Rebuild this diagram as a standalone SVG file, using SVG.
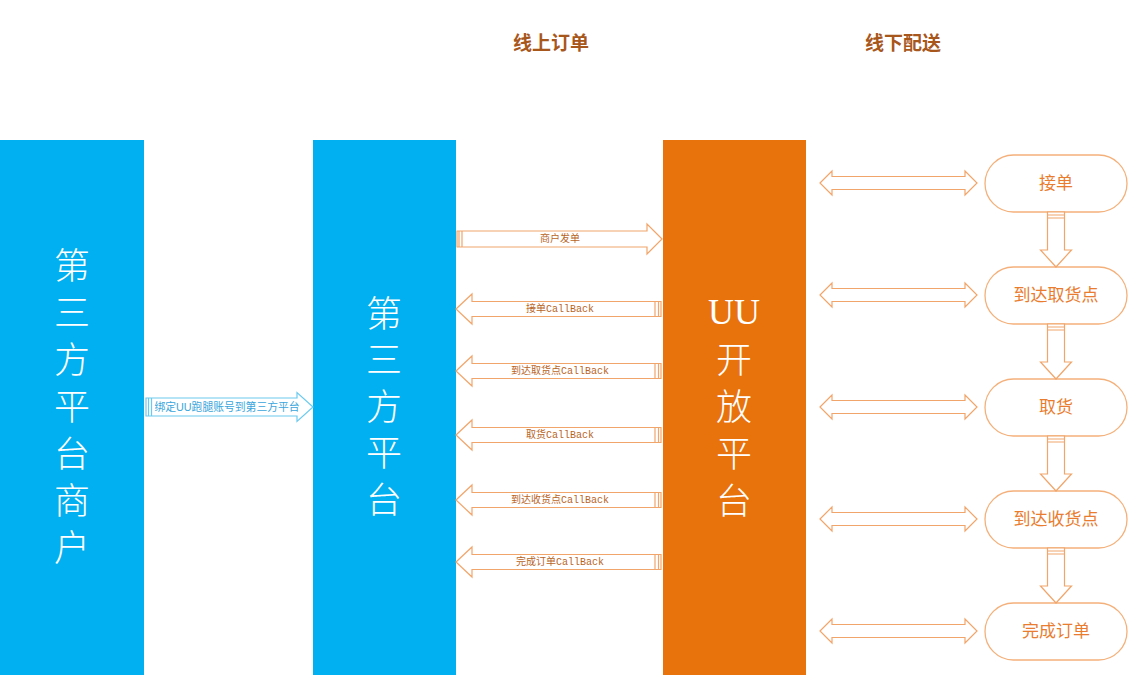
<svg xmlns="http://www.w3.org/2000/svg" xmlns:xlink="http://www.w3.org/1999/xlink" width="1129" height="675" viewBox="0 0 1129 675">
<style>
.bar-blue{fill:#00b0f0}
.bar-orange{fill:#e8720c}
.big{font-family:"Noto Sans CJK SC","Noto Sans",sans-serif;font-size:36px;font-weight:300;fill:#ffffff}
.vert{writing-mode:vertical-rl;letter-spacing:11px}
.uu{font-family:"Liberation Serif","Noto Sans CJK SC",serif;text-anchor:middle;dominant-baseline:central}
.title{font-family:"Noto Sans CJK SC",sans-serif;font-size:19px;font-weight:bold;fill:#a8571c;text-anchor:middle;dominant-baseline:central}
.arr{fill:#ffffff;stroke:#f2a56a;stroke-width:1.2}
.arrb{fill:#ffffff;stroke:#6ccaf0;stroke-width:1.2}
.lbl{font-family:"Liberation Mono","Noto Sans CJK SC",monospace;font-size:10px;fill:#b8651f;text-anchor:middle;dominant-baseline:central}
.lblb{font-family:"Liberation Sans","Noto Sans CJK SC",sans-serif;font-size:10.8px;fill:#3aa6dc;text-anchor:middle;dominant-baseline:central}
.pill{fill:#ffffff;stroke:#f4b07a;stroke-width:1.3}
.ptxt{font-family:"Noto Sans CJK SC",sans-serif;font-size:17px;fill:#e97c2e;text-anchor:middle;dominant-baseline:central}
</style>
<defs>
<g id="leftArrow">
<path d="M0,0 L16,-15 L16,-7.5 L205,-7.5 L205,7.5 L16,7.5 L16,15 Z"/>
<path d="M199,-7.5 V7.5 M202.5,-7.5 V7.5" fill="none"/>
</g>
<g id="rightArrow">
<path d="M0,0 L-15,-15 L-15,-8 L-205,-8 L-205,8 L-15,8 L-15,15 Z"/>
<path d="M-200,-8 V8 M-203,-8 V8" fill="none"/>
</g>
<path id="dblArrow" d="M0,0 L12,-12 L12,-6.5 L145,-6.5 L145,-12 L157,0 L145,12 L145,6.5 L12,6.5 L12,12 Z"/>
<g id="downArrow">
<path d="M-8.5,0 L8.5,0 L8.5,38 L15.5,38 L0,55 L-15.5,38 L-8.5,38 Z"/>
<path d="M-8.5,3 H8.5 M-8.5,6 H8.5" fill="none"/>
</g>
</defs>

<text class="title" x="551" y="41">线上订单</text>
<text class="title" x="903" y="41">线下配送</text>

<g id="merchant">
<rect class="bar-blue" x="0" y="140" width="144" height="535"/>
<text class="big vert" x="72" y="247">第三方平台商户</text>
</g>

<g id="thirdparty">
<rect class="bar-blue" x="313" y="140" width="143" height="535"/>
<text class="big vert" x="384" y="295" style="letter-spacing:10.5px">第三方平台</text>
</g>

<g id="uuplatform">
<rect class="bar-orange" x="663" y="140" width="143" height="535"/>
<text class="big uu" x="734" y="312">UU</text>
<text class="big vert" x="734" y="341">开放平台</text>
</g>

<g id="pill-jiedan"><rect class="pill" x="985" y="155" width="142" height="57" rx="28.5"/><text class="ptxt" x="1056" y="181.5">接单</text></g>
<g id="pill-quhuodian"><rect class="pill" x="985" y="267" width="142" height="57" rx="28.5"/><text class="ptxt" x="1056" y="293.5">到达取货点</text></g>
<g id="pill-quhuo"><rect class="pill" x="985" y="379" width="142" height="57" rx="28.5"/><text class="ptxt" x="1056" y="405.5">取货</text></g>
<g id="pill-shouhuodian"><rect class="pill" x="985" y="491" width="142" height="57" rx="28.5"/><text class="ptxt" x="1056" y="517.5">到达收货点</text></g>
<g id="pill-wancheng"><rect class="pill" x="985" y="603" width="142" height="57" rx="28.5"/><text class="ptxt" x="1056" y="629.5">完成订单</text></g>

<g id="connectors">
<g class="arrb">
<path d="M313,407 L297,392.5 L297,398 L146,398 L146,416 L297,416 L297,421.5 Z"/>
<path d="M148.5,398 V416 M151.5,398 V416" fill="none"/>
</g>
<text class="lblb" x="227" y="407">绑定UU跑腿账号到第三方平台</text>

<use class="arr" xlink:href="#rightArrow" transform="translate(662,239)"/>
<text class="lbl" x="560" y="239">商户发单</text>
<use class="arr" xlink:href="#leftArrow" transform="translate(456,309)"/>
<text class="lbl" x="560" y="309">接单CallBack</text>
<use class="arr" xlink:href="#leftArrow" transform="translate(456,371)"/>
<text class="lbl" x="560" y="371">到达取货点CallBack</text>
<use class="arr" xlink:href="#leftArrow" transform="translate(456,435)"/>
<text class="lbl" x="560" y="435">取货CallBack</text>
<use class="arr" xlink:href="#leftArrow" transform="translate(456,500)"/>
<text class="lbl" x="560" y="500">到达收货点CallBack</text>
<use class="arr" xlink:href="#leftArrow" transform="translate(456,562)"/>
<text class="lbl" x="560" y="562">完成订单CallBack</text>

<use class="arr" xlink:href="#dblArrow" transform="translate(820,183)"/>
<use class="arr" xlink:href="#dblArrow" transform="translate(820,295)"/>
<use class="arr" xlink:href="#dblArrow" transform="translate(820,407)"/>
<use class="arr" xlink:href="#dblArrow" transform="translate(820,519)"/>
<use class="arr" xlink:href="#dblArrow" transform="translate(820,631)"/>

<use class="arr" xlink:href="#downArrow" transform="translate(1056,212)"/>
<use class="arr" xlink:href="#downArrow" transform="translate(1056,324)"/>
<use class="arr" xlink:href="#downArrow" transform="translate(1056,436)"/>
<use class="arr" xlink:href="#downArrow" transform="translate(1056,548)"/>
</g>
</svg>
